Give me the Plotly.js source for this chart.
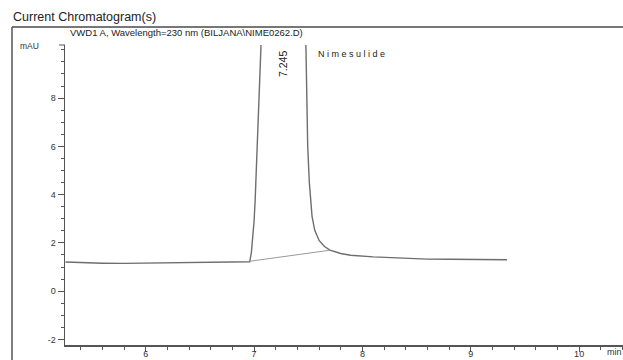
<!DOCTYPE html>
<html>
<head>
<meta charset="utf-8">
<script src="https://cdn.plot.ly/plotly-3.0.1.min.js"></script>
<style>html,body{margin:0;padding:0;background:#fff;}#chart{width:623px;height:360px;}</style>
</head>
<body>
<div id="chart"></div>
<script>
// ---- data ----
const timeMin = [5.26, 5.35, 5.45, 5.6, 5.8, 6.0, 6.2, 6.4, 6.6, 6.8, 6.95,
  6.96, 6.975, 6.985, 7.0, 7.01, 7.03, 7.05, 7.065, 7.10, 7.245, 7.42,
  7.478, 7.485, 7.495, 7.51, 7.52, 7.535, 7.56, 7.6, 7.65, 7.70, 7.8, 7.89,
  8.1, 8.35, 8.6, 8.81, 9.0, 9.335];
const signalMAU = [1.21, 1.19, 1.17, 1.16, 1.15, 1.16, 1.17, 1.18, 1.18, 1.19, 1.2,
  1.22, 1.6, 2.1, 2.9, 3.76, 6.0, 8.0, 10.3, 25, 120, 25,
  10.3, 8.0, 6.0, 4.5, 3.76, 3.1, 2.52, 2.1, 1.85, 1.7, 1.56, 1.49,
  1.42, 1.36, 1.33, 1.32, 1.31, 1.30];
const baselineT = [6.96, 7.69];
const baselineY = [1.24, 1.69];
const xTicks = [6, 7, 8, 9, 10];
const yTicks = [-2, 0, 2, 4, 6, 8];
const peakRT = "7.245";
const peakName = "Nimesulide";
const chartTitle = "Current Chromatogram(s)";
const signalTitle = "VWD1 A, Wavelength=230 nm (BILJANA\\NIME0262.D)";

// ---- pixel helpers for paper-referenced decorations ----
const L = 65, R = 0, T = 45, B = 15, W = 623, H = 360;
const pw = W - L - R, ph = H - T - B;
const px = x => (x - L) / pw;
const py = y => (H - B - y) / ph;

const axisColor = '#555';
const font = {family: 'Liberation Sans, Arial, sans-serif', size: 9, color: '#333'};

const traces = [
  {x: timeMin, y: signalMAU, mode: 'lines', type: 'scatter',
   line: {color: '#6e6e6e', width: 1.4}, hoverinfo: 'skip'},
  {x: baselineT, y: baselineY, mode: 'lines', type: 'scatter',
   line: {color: '#999', width: 1}, hoverinfo: 'skip'}
];

const layout = {
  width: W, height: H,
  margin: {l: L, r: R, t: T, b: B, pad: 0},
  paper_bgcolor: '#fff', plot_bgcolor: '#fff',
  showlegend: false,
  font: font,
  xaxis: {
    range: [5.255, 10.405], tickvals: xTicks, ticktext: xTicks.map(String),
    showgrid: false, zeroline: false, showline: true, linecolor: axisColor, linewidth: 1.5,
    ticks: 'outside', ticklen: 5, tickwidth: 1, tickcolor: axisColor,
    minor: {dtick: 0.2, tick0: 0, ticks: 'outside', ticklen: 3, tickcolor: axisColor, showgrid: false},
    ticklabelstandoff: -5,
    tickfont: {family: font.family, size: 9, color: '#333'}, fixedrange: true
  },
  yaxis: {
    range: [-2.23, 10.2], tickvals: yTicks, ticktext: yTicks.map(String),
    showgrid: false, zeroline: false, showline: true, linecolor: axisColor, linewidth: 1.5,
    ticks: 'outside', ticklen: 6, tickwidth: 1, tickcolor: axisColor,
    minor: {dtick: 0.5, tick0: 0, ticks: 'outside', ticklen: 3, tickcolor: axisColor, showgrid: false},
    tickfont: {family: font.family, size: 9, color: '#333'}, fixedrange: true
  },
  shapes: [
    {type: 'line', xref: 'paper', yref: 'paper', x0: px(12), x1: px(625), y0: py(27), y1: py(27),
     line: {color: '#777', width: 2}},
    {type: 'line', xref: 'paper', yref: 'paper', x0: px(12), x1: px(12), y0: py(27), y1: py(362),
     line: {color: '#555', width: 1.5}},
    {type: 'line', xref: 'paper', yref: 'paper', x0: px(59), x1: px(65), y0: 1, y1: 1,
     line: {color: axisColor, width: 1}}
  ],
  annotations: [
    {xref: 'paper', yref: 'paper', x: px(11), y: py(17), text: chartTitle, showarrow: false,
     xanchor: 'left', yanchor: 'middle', font: {family: font.family, size: 12.5, color: '#222'}},
    {xref: 'paper', yref: 'paper', x: px(68), y: py(33), text: signalTitle, showarrow: false,
     xanchor: 'left', yanchor: 'middle', font: {family: font.family, size: 9.5, color: '#222'}},
    {xref: 'paper', yref: 'paper', x: px(41), y: py(46), text: 'mAU', showarrow: false,
     xanchor: 'right', yanchor: 'middle', font: {family: font.family, size: 8.5, color: '#333'}},
    {xref: 'paper', yref: 'paper', x: px(605), y: py(352), text: 'min', showarrow: false,
     xanchor: 'left', yanchor: 'middle', font: {family: font.family, size: 9, color: '#333'}},
    {xref: 'paper', yref: 'paper', x: px(283), y: py(64), text: peakRT, showarrow: false,
     textangle: -90, xanchor: 'center', yanchor: 'middle', font: {family: font.family, size: 10.5, color: '#222'}},
    {xref: 'paper', yref: 'paper', x: px(316), y: py(54), text: peakName.split('').join(' '), showarrow: false,
     xanchor: 'left', yanchor: 'middle', font: {family: font.family, size: 9, color: '#222'}}
  ]
};

Plotly.newPlot('chart', traces, layout, {staticPlot: true, displayModeBar: false});
</script>
</body>
</html>
